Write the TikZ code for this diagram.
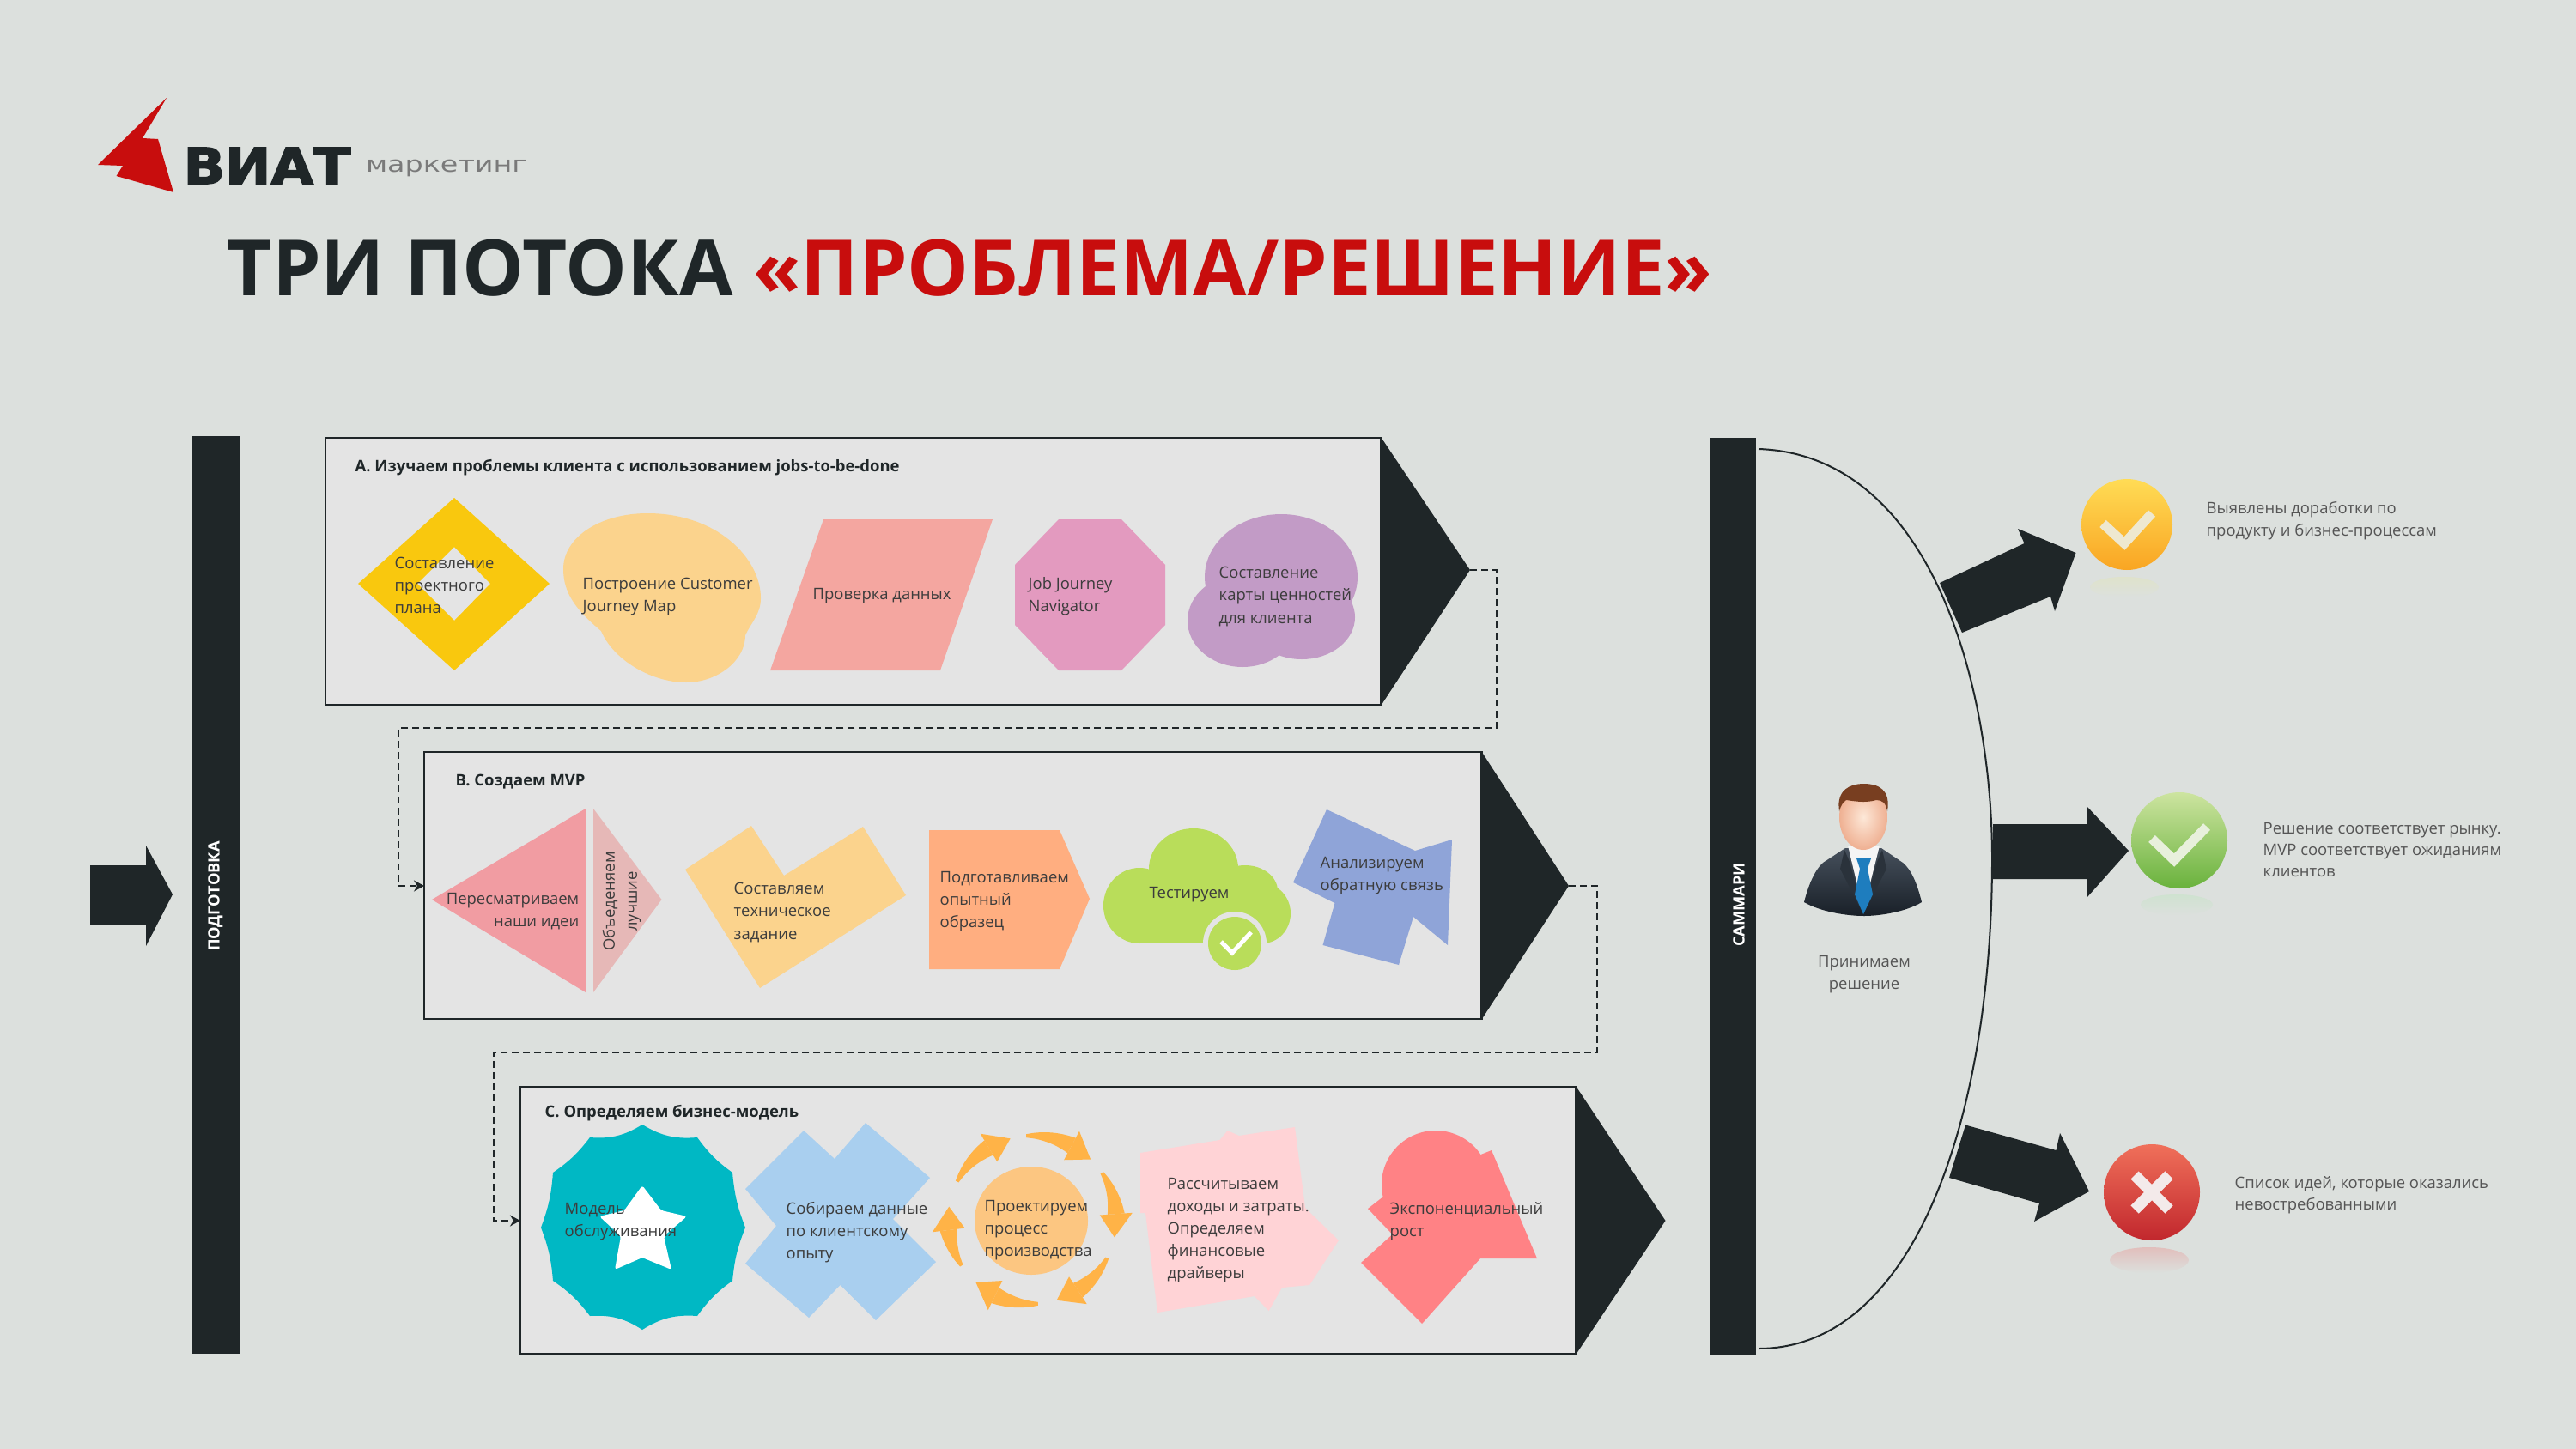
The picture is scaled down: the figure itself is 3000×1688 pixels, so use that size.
\documentclass[tikz,border=0pt]{standalone}
\usepackage{fontspec}
\setmainfont{Open Sans}
\newfontfamily\dejavu{DejaVu Sans}
\newfontfamily\logofont[FakeBold=2.5]{DejaVu Sans Bold}
\definecolor{bgc}{HTML}{DCE0DD}
\definecolor{panelc}{HTML}{E4E4E4}
\definecolor{darkc}{HTML}{1F2628}
\definecolor{redc}{HTML}{C80D0D}
\definecolor{txtc}{HTML}{3C3C3C}
\definecolor{graytxt}{HTML}{555555}
\definecolor{logotxt}{HTML}{7A7A7A}
\definecolor{arrcol}{HTML}{FFB347}
\definecolor{yelc}{HTML}{F9C80E}
\definecolor{sandc}{HTML}{FBD38D}
\definecolor{salmc}{HTML}{F4A6A0}
\definecolor{pinkc}{HTML}{E39ABF}
\definecolor{purpc}{HTML}{C29BC6}
\definecolor{rosec}{HTML}{F19CA2}
\definecolor{rosebc}{HTML}{E6B8B7}
\definecolor{peachc}{HTML}{FFAE80}
\definecolor{limec}{HTML}{B9DD5A}
\definecolor{bluec}{HTML}{8FA4D8}
\definecolor{tealc}{HTML}{00B8C4}
\definecolor{skyc}{HTML}{A9CFEF}
\definecolor{oranc}{HTML}{FCC681}
\definecolor{blushc}{HTML}{FFD3D6}
\definecolor{coralc}{HTML}{FF8285}
\definecolor{yA}{HTML}{FFDC55}
\definecolor{yB}{HTML}{FFC800}
\definecolor{yC}{HTML}{F9A523}
\definecolor{yD}{HTML}{EEE8D0}
\definecolor{gA}{HTML}{CDE4A0}
\definecolor{gB}{HTML}{A5D26E}
\definecolor{gC}{HTML}{69B23C}
\definecolor{gD}{HTML}{E8F0DC}
\definecolor{rA}{HTML}{F0705A}
\definecolor{rB}{HTML}{ED1C24}
\definecolor{rC}{HTML}{C1272D}
\definecolor{rD}{HTML}{F3EAEA}
\definecolor{suitA}{HTML}{46505C}
\definecolor{suitB}{HTML}{192028}
\definecolor{lapelc}{HTML}{2A323B}
\definecolor{tiec}{HTML}{1E7DBE}
\definecolor{skinA}{HTML}{FDE8D8}
\definecolor{skinB}{HTML}{EFB092}
\definecolor{hairc}{HTML}{783E20}
\tikzset{
  lbl/.style={inner sep=0pt,anchor=west,align=left,text=txtc,font=\fontsize{5.25}{7.4}\selectfont},
  ttl/.style={inner sep=0pt,anchor=west,text=darkc,font=\fontsize{5.25}{7}\selectfont\bfseries},
  side/.style={inner sep=0pt,anchor=west,align=left,text=graytxt,font=\fontsize{5.25}{7.2}\selectfont},
  panelbox/.style={draw=darkc,line width=0.025cm,fill=panelc,inner sep=0pt,outer sep=0pt,anchor=north west},
  barbox/.style={fill=darkc,inner sep=0pt,outer sep=0pt,rotate=90,minimum height=0.54cm},
  bartxt/.style={inner sep=0pt,rotate=90,text=white,font=\fontsize{5.2}{7}\selectfont\bfseries},
  flow/.style={draw=darkc,line width=0.018cm,dash pattern=on 0.08cm off 0.05cm},
  flowtip/.style={flow,-{Stealth[length=0.12cm,width=0.13cm]}},
  bigarrow/.style={fill=darkc},
}
\usetikzlibrary{arrows.meta}
\begin{document}
\begin{tikzpicture}[x=0.01cm,y=-0.01cm]
\useasboundingbox (0,0) rectangle (3000,1688);
\fill[bgc] (0,0) rectangle (3000,1688);
% logo
\fill[redc] (194,114) -- (166,161) -- (184,162) -- (202,224) -- (135.5,205) -- (143,193) -- (114,192) -- cycle;
\node[inner sep=0pt,text=darkc,font=\fontsize{16.5}{17}\selectfont\logofont,xscale=1.1,transform shape] (logoA) at (311,193) {ВИАТ};
\node[inner sep=0pt,text=logotxt,font=\fontsize{7.3}{8}\selectfont\dejavu,xscale=1.3,transform shape] (logoB) at (520,196) {маркетинг};
% title
\node[inner sep=0pt,anchor=west,font=\fontsize{25.7}{30}\selectfont\bfseries] (title) at (264,312) {\textcolor{darkc}{ТРИ ПОТОКА} \textcolor{redc}{«ПРОБЛЕМА/РЕШЕНИЕ»}};
% bars
\node[barbox,minimum width=10.68cm] (prep) at (251.5,1042.5) {};
\node[bartxt] (prepT) at (251,1044) {ПОДГОТОВКА};
\node[barbox,minimum width=10.68cm] (summ) at (2018,1044) {};
\node[bartxt] (summT) at (2025,1054) {САММАРИ};
% left arrow
\fill[bigarrow] (105,1008) -- (170,1008) -- (170,985) -- (201,1042) -- (170,1102) -- (170,1077) -- (105,1077) -- cycle;
% panels
\node[panelbox,minimum width=12.29cm,minimum height=3.11cm] (panelA) at (379,510) {};
\coordinate (tipA) at (1712,664);
\fill[darkc] (panelA.north east) -- (tipA) -- (panelA.south east) -- cycle;
\node[panelbox,minimum width=12.31cm,minimum height=3.11cm] (panelB) at (494,876) {};
\coordinate (tipB) at (1827,1032);
\fill[darkc] (panelB.north east) -- (tipB) -- (panelB.south east) -- cycle;
\node[panelbox,minimum width=12.29cm,minimum height=3.11cm] (panelC) at (606,1266) {};
\coordinate (tipC) at (1939.5,1422);
\fill[darkc] (panelC.north east) -- (tipC) -- (panelC.south east) -- cycle;
% connectors
\coordinate (inB) at (494,1032);
\coordinate (inC) at (606,1422);
\coordinate (ab1) at (1743,664);
\coordinate (ab2) at (1743,848);
\coordinate (ab3) at (464,848);
\coordinate (ab4) at (464,1032);
\draw[flowtip] (tipA) -- (ab1) -- (ab2) -- (ab3) -- (ab4) -- (inB);
\coordinate (bc1) at (1860,1032);
\coordinate (bc2) at (1860,1226);
\coordinate (bc3) at (575,1226);
\coordinate (bc4) at (575,1422);
\draw[flowtip] (tipB) -- (bc1) -- (bc2) -- (bc3) -- (bc4) -- (inC);
% panel titles
\node[ttl] (tA) at (413,545) {А. Изучаем проблемы клиента с использованием jobs-to-be-done};
\node[ttl] (tB) at (530,911) {В. Создаем MVP};
\node[ttl] (tC) at (634,1297) {С. Определяем бизнес-модель};
% A shapes
\fill[yelc,even odd rule] (529,580) -- (640,680) -- (529,781) -- (417,680) -- cycle (529,637) -- (571,680) -- (529,723) -- (486,680) -- cycle;
\node[lbl] (a1) at (459,682) {Составление\\проектного\\плана};
\fill[sandc] (754,598) .. controls (835,598) and (886,650) .. (886,697) .. controls (886,715) and (875,725) .. (868,740) .. controls (868,770) and (835,795) .. (799,795) .. controls (760,795) and (715,770) .. (700,735) .. controls (670,710) and (656,690) .. (656,663) .. controls (656,625) and (700,598) .. (754,598) -- cycle;
\node[lbl] (a2) at (678,695) {Построение Customer\\Journey Map};
\fill[salmc] (959,605) -- (1156,605) -- (1095,781) -- (897,781) -- cycle;
\node[lbl] (a3) at (946,694) {Проверка данных};
\fill[pinkc] (1233,605) -- (1306,605) -- (1357,658) -- (1357,728) -- (1306,781) -- (1233,781) -- (1182,728) -- (1182,658) -- cycle;
\node[lbl] (a4) at (1197,695) {Job Journey\\Navigator};
\fill[purpc] (1492,672) ellipse (89 and 73);
\fill[purpc] (1447,723) ellipse (64 and 54);
\fill[purpc] (1516,719) ellipse (62 and 49);
\node[lbl] (a5) at (1419,695) {Составление\\карты ценностей\\для клиента};
% B shapes
\fill[rosec] (682,942) -- (682,1156) -- (503,1048) -- cycle;
\fill[rosebc] (691,942) -- (691,1156) -- (770.5,1048) -- cycle;
\node[lbl,align=right,anchor=east] (b1) at (675,1062) {Пересматриваем\\наши идеи};
\node[lbl,align=center,anchor=center,rotate=90,transform shape] (b2) at (724,1050) {Объеденяем\\лучшие};
\fill[sandc] (798,1013) -- (875,962) -- (913,1020) -- (1005,963) -- (1055,1043) -- (885,1151) -- cycle;
\node[lbl] (b3) at (854,1063) {Составляем\\техническое\\задание};
\fill[peachc] (1082,967) -- (1234,967) -- (1269,1047) -- (1234,1129) -- (1082,1129) -- cycle;
\node[lbl] (b4) at (1094,1050) {Подготавливаем\\опытный\\образец};
\fill[limec] (1390,1012) ellipse (52 and 47);
\fill[limec] (1327,1055) ellipse (42 and 44);
\fill[limec] (1470,1064) ellipse (33 and 35);
\fill[limec] (1450,1038) ellipse (38 and 30);
\fill[limec] (1327,1040) rectangle (1478,1099);
\fill[panelc] (1438,1099) circle (37);
\fill[limec] (1438,1099) circle (31);
\draw[white,line width=0.05cm] (1422,1097) -- (1435,1110) -- (1457,1086);
\node[lbl] (b5) at (1338,1042) {Тестируем};
\fill[bluec] (1545,943) -- (1648,991) -- (1691,978) -- (1686,1101) -- (1646,1068) -- (1629,1124) -- (1540.5,1101) -- (1554.5,1052) -- (1506,1028) -- cycle;
\node[lbl] (b6) at (1537,1020) {Анализируем\\обратную связь};
% C shapes
\fill[tealc] (748,1310) to[bend right=18] (812,1325) to[bend right=9] (853,1366) to[bend right=8] (868,1430) to[bend right=8] (853,1492) to[bend right=9] (812,1533) to[bend right=18] (748,1549) to[bend right=18] (687,1533) to[bend right=9] (644,1492) to[bend right=8] (630,1430) to[bend right=8] (644,1366) to[bend right=9] (687,1325) to[bend right=18] (748,1310) -- cycle;
\fill[white,rounded corners=0.03cm] (748,1381) -- (770,1410) -- (800,1417) -- (773,1440) -- (782,1479) -- (748,1465) -- (716,1479) -- (723,1440) -- (698,1417) -- (727,1410) -- cycle;
\node[lbl] (c1) at (657,1423) {Модель\\обслуживания};
\fill[skyc] (936,1317) -- (972,1350) -- (1008,1308) -- (1083,1372) -- (1040,1420) -- (1090,1470) -- (1020,1538) -- (978.5,1497) -- (942,1535) -- (868,1472) -- (904,1428) -- (868,1385) -- cycle;
\node[lbl] (c2) at (915,1436) {Собираем данные\\по клиентскому\\опыту};
\fill[oranc] (1201,1422) ellipse (66 and 63);
\foreach \a/\b in {153/105,94/46,34/-12,-27/-73,-86/-132,-147/-189}{
  \pgfmathsetmacro\c{\b+16}
  \fill[arrcol] plot[domain=\a:\c,samples=12] ({1202+(98+2+8*(\x-\a)/(\c-\a))*cos(\x)},{1421-(98+2+8*(\x-\a)/(\c-\a))*sin(\x)}) -- plot[domain=\c:\a,samples=12] ({1202+(98-2-8*(\x-\a)/(\c-\a))*cos(\x)},{1421-(98-2-8*(\x-\a)/(\c-\a))*sin(\x)}) -- cycle;
  \fill[arrcol] ({1202+117*cos(\c)},{1421-117*sin(\c)}) -- ({1202+98*cos(\b)},{1421-98*sin(\b)}) -- ({1202+79*cos(\c)},{1421-79*sin(\c)}) -- cycle;
}
\node[lbl] (c3) at (1146,1433) {Проектируем\\процесс\\производства};
\fill[blushc] (1328,1343) -- (1420.5,1328) -- (1429.6,1317) -- (1443,1323) -- (1508,1313) -- (1520,1407) -- (1559,1445) -- (1525,1497) -- (1493,1500) -- (1477.6,1527) -- (1461,1510) -- (1348,1529) -- (1334,1413) -- (1328,1413) -- cycle;
\node[lbl] (c4) at (1359,1433) {Рассчитываем\\доходы и затраты.\\Определяем\\финансовые\\драйверы};
\fill[coralc] (1672,1380) circle (63);
\fill[coralc] (1593,1408) -- (1620,1387) -- (1737,1340) -- (1790,1466) -- (1724,1466) -- (1656,1542) -- (1585,1471) -- (1621.6,1438) -- cycle;
\node[lbl] (c5) at (1618,1423) {Экспоненциальный\\рост};
% summary curve
\coordinate (sTop) at (2048,523);
\coordinate (sMid) at (2320,1000);
\coordinate (sBot) at (2048,1571);
\draw[darkc,line width=0.02cm] (sTop) .. controls (2250,530) and (2320,800) .. (sMid) .. controls (2320,1300) and (2230,1571) .. (sBot);
% big arrows
\fill[bigarrow] (2259,679) -- (2357.5,633) -- (2350,616) -- (2417.5,644) -- (2393,712) -- (2388,695) -- (2285,737) -- cycle;
\fill[bigarrow] (2321,960) -- (2430,960) -- (2430,939) -- (2479,991) -- (2430,1046) -- (2430,1024) -- (2321,1024) -- cycle;
\fill[bigarrow] (2289,1310.5) -- (2394.5,1340) -- (2399,1320) -- (2433,1388) -- (2369,1423) -- (2375,1402) -- (2270,1372) -- cycle;
% reflections
\shade[top color=yellow!8!bgc,bottom color=bgc] (2474,684) ellipse (40 and 12);
\shade[top color=green!6!bgc,bottom color=bgc] (2535,1054) ellipse (42 and 12);
\shade[top color=red!15!bgc,bottom color=bgc] (2503,1468) ellipse (46 and 15);
% status icons
\shade[top color=yA,middle color=yB,bottom color=yC] (2477,611) circle (53);
\draw[yD,line width=0.11cm] (2449,610) -- (2474,633) -- (2506,598);
\shade[top color=gA,middle color=gB,bottom color=gC] (2538,979) circle (56);
\draw[gD,line width=0.11cm] (2506,977) -- (2532,1002) -- (2570,963);
\shade[top color=rA,middle color=rB,bottom color=rC] (2506,1389) circle (56);
\draw[rD,line width=0.13cm] (2486,1369) -- (2526,1409) (2526,1369) -- (2486,1409);
% man
\shade[top color=suitA,bottom color=suitB] (2149,988) -- (2191,988) -- (2216,1005) .. controls (2228,1015) and (2234,1035) .. (2238,1051) .. controls (2220,1062) and (2190,1067) .. (2171,1067) .. controls (2150,1067) and (2120,1062) .. (2101,1051) .. controls (2105,1035) and (2112,1015) .. (2123,1005) -- cycle;
\fill[white!92!gray] (2152,985) -- (2189,985) -- (2170,1061) -- cycle;
\fill[lapelc] (2148,990) -- (2143,1012) -- (2170,1065) -- (2154,1004) -- cycle;
\fill[lapelc] (2192,990) -- (2197,1012) -- (2170,1065) -- (2186,1004) -- cycle;
\fill[tiec] (2162,1000) -- (2179,1000) -- (2175,1012) -- (2181,1042) -- (2170,1065) -- (2160,1042) -- (2166,1012) -- cycle;
\shade[inner color=skinA,outer color=skinB] (2170,952) ellipse (28 and 38);
\fill[hairc] (2142,945) .. controls (2138,920) and (2155,913) .. (2170,913) .. controls (2188,913) and (2202,920) .. (2198,945) .. controls (2196,935) and (2192,932) .. (2185,932) .. controls (2172,936) and (2158,933) .. (2150,932) .. controls (2146,935) and (2144,938) .. (2142,945) -- cycle;
% side texts
\node[side,align=center,anchor=center] (m1) at (2171,1135) {Принимаем\\решение};
\node[side] (s1) at (2569,606.5) {Выявлены доработки по\\продукту и бизнес-процессам};
\node[side] (s2) at (2635,990) {Решение соответствует рынку.\\MVP соответствует ожиданиям\\клиентов};
\node[side] (s3) at (2602,1392.5) {Список идей, которые оказались\\невостребованными};
\end{tikzpicture}
\end{document}
